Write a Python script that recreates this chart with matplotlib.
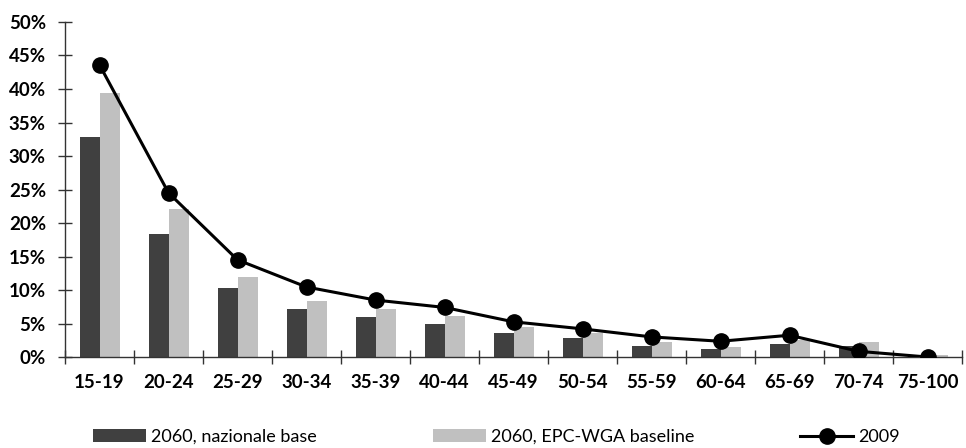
import numpy as np
import matplotlib
matplotlib.use("Agg")
import matplotlib.pyplot as plt
from matplotlib.ticker import FuncFormatter

plt.rcParams['font.family'] = ['Lato', 'DejaVu Sans']

# age classes and shares (%)
classi = ['15-19', '20-24', '25-29', '30-34', '35-39', '40-44', '45-49',
          '50-54', '55-59', '60-64', '65-69', '70-74', '75-100']
naz_base = [32.8, 18.35, 10.25, 7.1, 5.9, 5.0, 3.65, 2.9, 1.7, 1.25, 2.0, 1.7, 0.1]
epc_base = [39.45, 22.1, 11.9, 8.3, 7.1, 6.05, 4.55, 3.65, 2.3, 1.55, 2.6, 2.3, 0.35]
anno_2009 = [43.6, 24.5, 14.5, 10.45, 8.5, 7.4, 5.25, 4.2, 3.0, 2.35, 3.25, 0.85, 0.0]

fig = plt.figure(figsize=(9.66, 4.48), dpi=100)
ax = fig.add_axes([0.0673, 0.2031, 0.9286, 0.7478])

x = np.arange(len(classi))
w = 0.29
b1 = ax.bar(x - w / 2, naz_base, w, color='#404040', label='2060, nazionale base', zorder=2)
b2 = ax.bar(x + w / 2, epc_base, w, color='#c0c0c0', label='2060, EPC-WGA baseline', zorder=2)
l1, = ax.plot(x, anno_2009, color='black', lw=2.2, marker='o', markersize=11,
              label='2009', zorder=3)

ax.set_xlim(-0.5, len(classi) - 0.5)
ax.set_ylim(0, 50)
ax.set_yticks(np.arange(0, 51, 5))
ax.yaxis.set_major_formatter(FuncFormatter(lambda v, p: '%d%%' % v))
ax.set_xticks(np.arange(-0.5, len(classi), 1.0))
ax.set_xticklabels([])
ax.set_xticks(x, minor=True)
ax.set_xticklabels(classi, minor=True)

for s in ['top', 'right']:
    ax.spines[s].set_visible(False)
for s in ['left', 'bottom']:
    ax.spines[s].set_linewidth(1.0)
    ax.spines[s].set_color('#333333')

ax.tick_params(axis='y', direction='inout', length=9.5, width=1.0, color='#333333',
               pad=9, labelsize=13.5)
ax.tick_params(axis='x', which='major', direction='inout', length=9.5, width=1.0,
               color='#333333')
ax.tick_params(axis='x', which='minor', length=0, pad=12, labelsize=13.5)
for lab in ax.get_yticklabels() + ax.get_xticklabels(minor=True):
    lab.set_fontweight('bold')

# one legend entry per slot along the bottom
for h, x0 in [(b1, 93), (b2, 433), (l1, 800)]:
    fig.legend(handles=[h], loc='center left', bbox_to_anchor=(x0 / 966, 0.0246),
               frameon=False, borderpad=0, borderaxespad=0, fontsize=13,
               handlelength=2.95, handletextpad=0.25)

fig.savefig('out.png', dpi=100)
